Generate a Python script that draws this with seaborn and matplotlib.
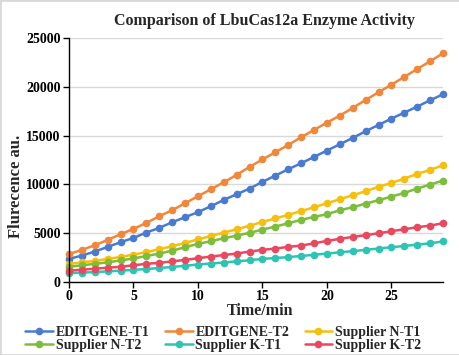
import numpy as np
import pandas as pd
import matplotlib
matplotlib.use("Agg")
import matplotlib.pyplot as plt
import seaborn as sns
from matplotlib.patches import Rectangle

# time points (min) and fluorescence readings
time_min = list(range(30))

editgene_t1 = [2357, 2698, 3108, 3586, 4064, 4508, 5055, 5533, 6113, 6626,
               7150, 7750, 8400, 8982, 9563, 10250, 10895, 11544, 12158, 12807,
               13456, 14105, 14754, 15437, 16086, 16735, 17350, 17964, 18613, 19228]
editgene_t2 = [2850, 3280, 3757, 4303, 4884, 5430, 6045, 6728, 7342, 8060,
               8777, 9494, 10211, 10963, 11780, 12550, 13285, 14037, 14822, 15574,
               16325, 17042, 17828, 18648, 19433, 20219, 21004, 21824, 22610, 23430]
supplier_n_t1 = [1850, 2000, 2150, 2350, 2550, 2800, 3050, 3350, 3650, 4000,
                 4350, 4700, 5050, 5400, 5750, 6150, 6500, 6870, 7250, 7650,
                 8060, 8470, 8880, 9290, 9734, 10143, 10587, 11066, 11475, 11954]
supplier_n_t2 = [1550, 1700, 1850, 2000, 2200, 2400, 2650, 2900, 3200, 3550,
                 3893, 4166, 4474, 4747, 5020, 5362, 5669, 6011, 6352, 6660,
                 6933, 7342, 7650, 8026, 8368, 8743, 9119, 9563, 9973, 10383]
supplier_k_t1 = [900, 950, 1000, 1080, 1150, 1230, 1320, 1420, 1530, 1650,
                 1780, 1880, 1981, 2100, 2220, 2357, 2440, 2540, 2650, 2780,
                 2900, 3030, 3150, 3280, 3420, 3550, 3680, 3820, 3950, 4150]
supplier_k_t2 = [1150, 1250, 1350, 1450, 1550, 1700, 1850, 1950, 2100, 2250,
                 2425, 2596, 2750, 2900, 3108, 3279, 3415, 3586, 3723, 3950,
                 4201, 4406, 4611, 4782, 4986, 5191, 5396, 5601, 5771, 6011]

series_names = ["EDITGENE-T1", "EDITGENE-T2", "Supplier N-T1",
                "Supplier N-T2", "Supplier K-T1", "Supplier K-T2"]
series_values = [editgene_t1, editgene_t2, supplier_n_t1,
                 supplier_n_t2, supplier_k_t1, supplier_k_t2]
colors = ["#4a7bd0", "#f0873a", "#f5bf0f", "#7cbd3c", "#2ec4b4", "#e8495e"]

df = pd.concat(
    [pd.DataFrame({"Time": time_min, "Value": vals, "Sample": name})
     for name, vals in zip(series_names, series_values)],
    ignore_index=True,
)

sns.set_theme(style="white")
plt.rcParams["font.family"] = ["Liberation Serif", "DejaVu Serif"]
plt.rcParams["font.weight"] = "bold"

fig, ax = plt.subplots(figsize=(4.6, 3.55), dpi=100)
fig.subplots_adjust(left=0.15, right=0.963, top=0.893, bottom=0.206)

sns.lineplot(data=df, x="Time", y="Value", hue="Sample", palette=colors,
             marker="o", markersize=5.5, markeredgewidth=0, linewidth=1.8,
             ax=ax, legend=True)
for ln in ax.lines:
    ln.set_clip_on(False)

ax.set_xlim(0, 29)
ax.set_ylim(0, 25000)
ax.set_xticks([0, 5, 10, 15, 20, 25])
ax.set_yticks([0, 5000, 10000, 15000, 20000, 25000])
ax.yaxis.grid(True, color="#d9d9d9", linewidth=1)
ax.xaxis.grid(False)
ax.set_axisbelow(True)
for side in ["top", "right"]:
    ax.spines[side].set_visible(False)
for side in ["left", "bottom"]:
    ax.spines[side].set_color("black")
    ax.spines[side].set_linewidth(1)
ax.tick_params(axis="both", direction="out", length=4, width=1, colors="black",
               labelsize=10, pad=2, bottom=True, left=True)
for lab in ax.get_xticklabels() + ax.get_yticklabels():
    lab.set_fontweight("bold")

ax.set_xlabel("Time/min", fontsize=11.5, fontweight="bold")
ax.set_ylabel("Flurecence au.", fontsize=12, fontweight="bold")
ax.xaxis.set_label_coords(0.511, -0.085)
ax.yaxis.set_label_coords(-0.12, 0.393)

fig.suptitle("Comparison of LbuCas12a Enzyme Activity", x=0.574, y=0.94,
             va="center", fontsize=11.5, fontweight="bold")

# legend filled row by row, like the original
handles, labels = ax.get_legend_handles_labels()
ax.get_legend().remove()
order = [0, 3, 1, 4, 2, 5]
fig.legend([handles[i] for i in order], [labels[i] for i in order],
           loc="upper left", bbox_to_anchor=(0.055, 0.083),
           ncol=3, frameon=False, handlelength=2.0,
           handletextpad=0.2, columnspacing=1.1, labelspacing=0.05,
           borderpad=0, borderaxespad=0, prop={"weight": "bold", "size": 10})

fig.patches.append(Rectangle((0, 0), 1, 1, transform=fig.transFigure,
                             fill=False, edgecolor="#d9d9d9", linewidth=2))

plt.savefig("out.png", dpi=100)
plt.close()
